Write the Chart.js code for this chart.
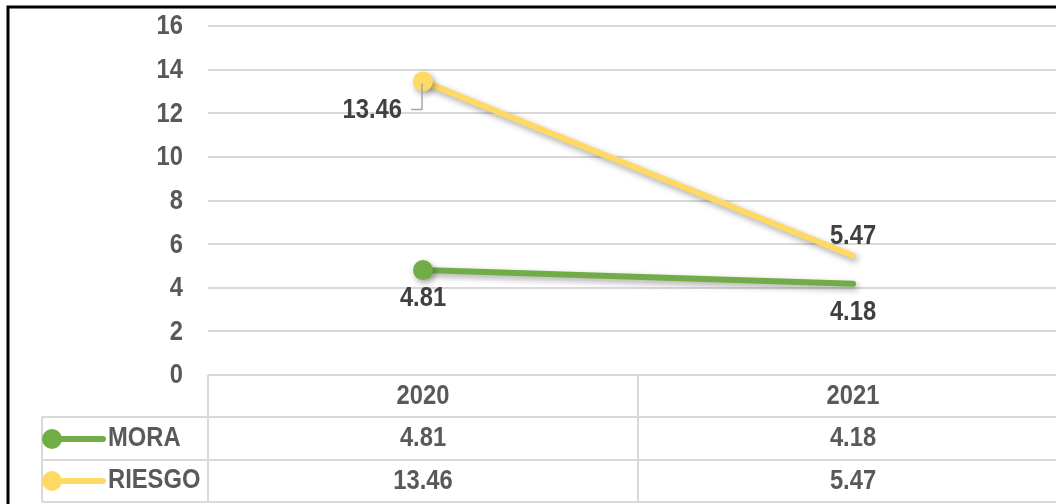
<!DOCTYPE html>
<html><head><meta charset="utf-8">
<script src="https://cdn.jsdelivr.net/npm/chart.js@4"></script>
<style>html,body{margin:0;padding:0;background:#fff;overflow:hidden;width:1056px;height:504px}
#wrap{position:absolute;left:0;top:0;width:1078px;height:504px}</style>
</head><body><div id="wrap"><canvas id="c" width="1078" height="504" style="width:1078px;height:504px"></canvas></div>
<script>
const categories = ['2020', '2021'];
const seriesNames = ['MORA', 'RIESGO'];
const mora = [4.81, 4.18];
const riesgo = [13.46, 5.47];
const yTicks = [0, 2, 4, 6, 8, 10, 12, 14, 16];

const FONT = '"Liberation Sans",Arial,sans-serif';
const colors = ['#70AD47', '#FFD966'];
const SX = 0.88;

function txt(c, s, x, y, align) {
  c.save();
  c.translate(x, y); c.scale(SX, 1);
  c.textAlign = align; c.textBaseline = 'middle';
  c.font = 'bold 27px ' + FONT;
  c.fillText(s, 0, 0);
  c.restore();
}

const shadowPlugin = {
  id: 'shadow',
  beforeDatasetDraw(chart) { const c = chart.ctx; c.save(); c.shadowColor = 'rgba(0,0,0,0.35)'; c.shadowBlur = 6; c.shadowOffsetX = 2; c.shadowOffsetY = 3; },
  afterDatasetDraw(chart) { chart.ctx.restore(); }
};

const framePlugin = {
  id: 'frame',
  afterDraw(chart) {
    const c = chart.ctx, x = chart.scales.x, y = chart.scales.y, ca = chart.chartArea;
    const W = chart.width;
    c.save();
    // y tick labels
    c.fillStyle = '#595959';
    yTicks.forEach(v => txt(c, String(v), 183, y.getPixelForValue(v) + 1, 'right'));
    // table grid
    c.strokeStyle = '#D9D9D9'; c.lineWidth = 2;
    const rTop = ca.bottom, r1 = 417, r2 = 460, r3 = 502, tLeft = 42;
    const mid = (x.getPixelForValue(0) + x.getPixelForValue(1)) / 2;
    c.beginPath();
    c.moveTo(ca.left, rTop); c.lineTo(W, rTop);
    c.moveTo(tLeft, r1); c.lineTo(W, r1);
    c.moveTo(tLeft, r2); c.lineTo(W, r2);
    c.moveTo(tLeft, r3); c.lineTo(W, r3);
    c.moveTo(ca.left, rTop); c.lineTo(ca.left, r3);
    c.moveTo(mid, rTop); c.lineTo(mid, r3);
    c.moveTo(tLeft, r1); c.lineTo(tLeft, r3);
    c.stroke();
    // table texts
    c.fillStyle = '#595959';
    categories.forEach((cat, i) => {
      const px = x.getPixelForValue(i);
      txt(c, cat, px, 397, 'center');
      txt(c, mora[i].toFixed(2), px, 439, 'center');
      txt(c, riesgo[i].toFixed(2), px, 482, 'center');
    });
    // legend keys
    const rowsY = [439, 481];
    [mora, riesgo].forEach((d, k) => {
      const yy = rowsY[k];
      c.strokeStyle = colors[k]; c.lineWidth = 6; c.lineCap = 'round';
      c.beginPath(); c.moveTo(52, yy); c.lineTo(103, yy); c.stroke();
      c.fillStyle = colors[k]; c.beginPath(); c.arc(52, yy, 10, 0, Math.PI * 2); c.fill();
      c.fillStyle = '#595959';
      txt(c, seriesNames[k], 108, yy, 'left');
    });
    // data labels
    c.fillStyle = '#404040';
    const m0 = chart.getDatasetMeta(0).data, m1 = chart.getDatasetMeta(1).data;
    txt(c, mora[0].toFixed(2), m0[0].x, m0[0].y + 28, 'center');
    txt(c, mora[1].toFixed(2), m0[1].x, m0[1].y + 29, 'center');
    txt(c, riesgo[1].toFixed(2), m1[1].x, m1[1].y - 19, 'center');
    txt(c, riesgo[0].toFixed(2), m1[0].x - 21, m1[0].y + 29, 'right');
    c.strokeStyle = '#A6A6A6'; c.lineWidth = 1.5; c.lineCap = 'butt';
    c.beginPath(); c.moveTo(m1[0].x - 1, m1[0].y + 2); c.lineTo(m1[0].x - 1, m1[0].y + 28); c.lineTo(m1[0].x - 12, m1[0].y + 28); c.stroke();
    // outer frame
    c.strokeStyle = '#000'; c.lineWidth = 3;
    c.beginPath(); c.moveTo(8, 504); c.lineTo(8, 7); c.lineTo(W, 7); c.stroke();
    c.restore();
  }
};

new Chart(document.getElementById('c'), {
  type: 'line',
  data: {
    labels: categories,
    datasets: [
      { label: seriesNames[0], data: mora, borderColor: colors[0], backgroundColor: colors[0], borderWidth: 6, borderCapStyle: 'round', pointRadius: [10, 0], pointBorderWidth: 0, pointBackgroundColor: colors[0], tension: 0 },
      { label: seriesNames[1], data: riesgo, borderColor: colors[1], backgroundColor: colors[1], borderWidth: 6, borderCapStyle: 'round', pointRadius: [10, 0], pointBorderWidth: 0, pointBackgroundColor: colors[1], tension: 0 }
    ]
  },
  options: {
    responsive: false, animation: false, devicePixelRatio: 1,
    layout: { padding: { left: 0, right: 1, top: 26, bottom: 129 } },
    plugins: { legend: { display: false }, tooltip: { enabled: false } },
    scales: {
      x: { display: false, offset: true },
      y: {
        min: 0, max: 16,
        afterBuildTicks: s => { s.ticks = yTicks.map(v => ({ value: v })); },
        afterFit: s => { s.width = 208; },
        border: { display: false },
        grid: { color: '#D9D9D9', lineWidth: 2, drawTicks: false },
        ticks: { display: false }
      }
    },
    clip: false
  },
  plugins: [shadowPlugin, framePlugin]
});
</script></body></html>
